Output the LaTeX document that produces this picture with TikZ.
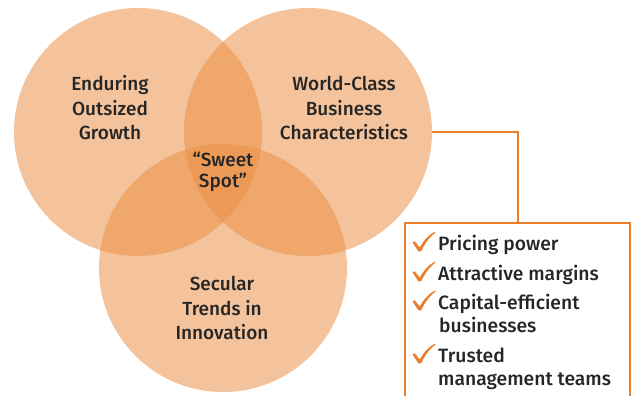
\documentclass[tikz,border=0pt]{standalone}
\usepackage{fontspec}
\setmainfont{Fira Sans}[UprightFont={* Medium}]
\definecolor{vennorange}{HTML}{EA8E42}
\definecolor{lineorange}{HTML}{E97F2C}
\definecolor{txt}{HTML}{262626}
\begin{document}
\begin{tikzpicture}[x=1pt,y=-1pt,
  venn/.style={circle, minimum size=248pt, inner sep=0pt, fill=vennorange, fill opacity=0.53, draw=none},
  lbl/.style={align=center, text=txt, inner sep=0pt, font=\fontsize{19}{24.5}\selectfont},
  conn/.style={draw=lineorange, line width=2pt},
  listbox/.style={draw=lineorange, line width=2pt, fill=none, inner sep=0pt},
  item/.style={anchor=base west, inner sep=0pt, text=txt, font=\fontsize{19.3}{22}\selectfont},
  checkmark/.pic={\fill[lineorange] (-7.5,-8.5) -- (-5.3,-9.8) -- (-0.3,-3.5)
     .. controls (4,-11) and (9,-16.5) .. (15,-19.5) -- (15.6,-18.6)
     .. controls (9.5,-14) and (4.5,-7) .. (1.2,0.3) -- (-1.6,0.3) -- cycle;}]
\useasboundingbox (0,0) rectangle (633,396);
\node[venn] (grow) at (138,132) {};
\node[venn] (world) at (308,132) {};
\node[venn] (secular) at (223,268) {};
\node[lbl] (tgrow) at (110,108) {Enduring\\Outsized\\Growth};
\node[lbl] (tworld) at (344,108) {World-Class\\Business\\Characteristics};
\node[lbl, font=\fontsize{19}{20.5}\selectfont] (tsweet) at (223,172) {“Sweet\\Spot”};
\node[lbl] (tsec) at (222,308) {Secular\\Trends in\\Innovation};
\node[listbox, anchor=north west, minimum width=225pt, minimum height=200pt] (box) at (404,222) {};
\draw[conn] (world.east) -| (box.north);
\coordinate (c1) at (420,251);
\coordinate (c2) at (420,281);
\coordinate (c3) at (420,310);
\coordinate (c4) at (420,363);
\pic at (c1) {checkmark};
\pic at (c2) {checkmark};
\pic at (c3) {checkmark};
\pic at (c4) {checkmark};
\node[item] (i1) at (438,250) {Pricing power};
\node[item] (i2) at (438,280) {Attractive margins};
\node[item] (i3) at (438,309) {Capital-efficient};
\node[item] (i3b) at (439,332) {businesses};
\node[item] (i4) at (438,362) {Trusted};
\node[item] (i4b) at (438,385) {management teams};
\end{tikzpicture}
\end{document}
